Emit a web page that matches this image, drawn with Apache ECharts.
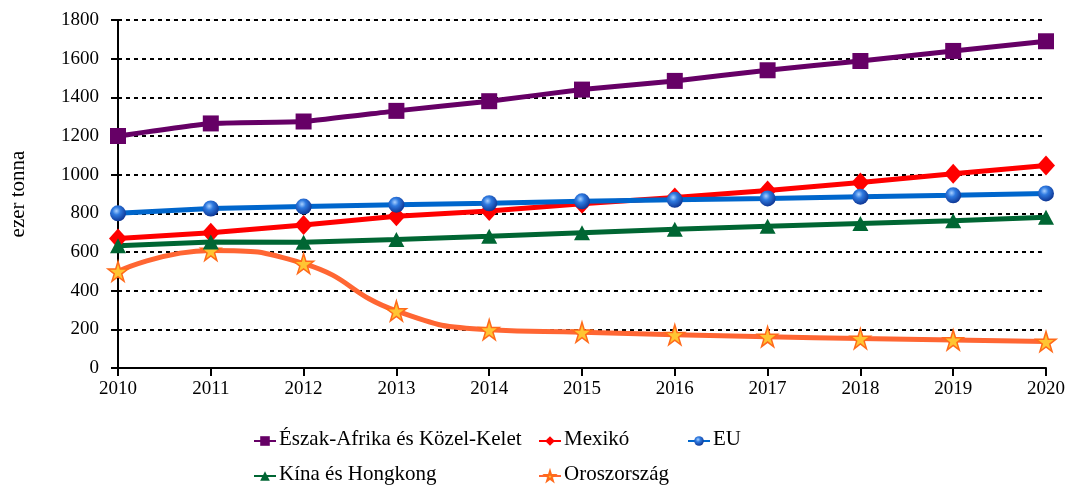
<!DOCTYPE html>
<html>
<head>
<meta charset="utf-8">
<script src="https://cdn.jsdelivr.net/npm/echarts@6/dist/echarts.min.js"></script>
<style>
  html, body { margin: 0; padding: 0; background: #fff; }
  #chart { width: 1072px; height: 490px; }
</style>
</head>
<body>
<div id="chart"></div>
<script>
var years = ["2010", "2011", "2012", "2013", "2014", "2015", "2016", "2017", "2018", "2019", "2020"];
var eszakAfrika = [1200, 1265, 1275, 1330, 1380, 1440, 1485, 1540, 1588, 1640, 1690];
var mexiko = [670, 700, 740, 785, 812, 850, 882, 918, 960, 1005, 1048];
var eu = [800, 825, 835, 845, 852, 862, 870, 877, 886, 893, 903];
var kina = [632, 652, 650, 665, 682, 700, 718, 733, 748, 762, 780];
var orosz = [500, 608, 540, 295, 198, 185, 172, 162, 152, 145, 137];

var seriesNames = ["Észak-Afrika és Közel-Kelet", "Mexikó", "EU", "Kína és Hongkong", "Oroszország"];

var star = "path://M50,0 L61,35 L98,35 L68,57 L79,91 L50,70 L21,91 L32,57 L2,35 L39,35 Z";
var serif = "Liberation Serif";

var chart = echarts.init(document.getElementById("chart"));

// legend cells: icon from the legend, label drawn as serif text next to it
var cells = [[253, 441], [538, 441], [687, 441], [253, 476], [538, 476]];

var legends = [], labels = [];
seriesNames.forEach(function (name, i) {
  legends.push({
    data: [name],
    left: cells[i][0],
    top: cells[i][1] - 6,
    itemWidth: 22,
    itemHeight: 12,
    formatter: function () { return ""; },
    padding: 0
  });
  labels.push({
    type: "text",
    left: cells[i][0] + 26,
    top: cells[i][1] - 12,
    style: { text: name, font: "21px 'Liberation Serif'", fill: "#000" }
  });
});

var option = {
  animation: false,
  backgroundColor: "#fff",
  textStyle: { fontFamily: serif },
  grid: { left: 116, right: 26, top: 20, bottom: 122 },
  legend: legends,
  graphic: labels,
  xAxis: {
    type: "category",
    data: years,
    boundaryGap: false,
    axisLine: { lineStyle: { color: "#000", width: 2 } },
    axisTick: { show: true, length: 8, lineStyle: { color: "#000", width: 2 } },
    axisLabel: { color: "#000", fontFamily: serif, fontSize: 19, margin: 12 }
  },
  yAxis: {
    type: "value",
    min: 0,
    max: 1800,
    interval: 200,
    name: "ezer tonna",
    nameLocation: "middle",
    nameGap: 89,
    nameTextStyle: { color: "#000", fontFamily: serif, fontSize: 21 },
    axisLine: { show: true, lineStyle: { color: "#000", width: 2 } },
    axisTick: { show: true, length: 7, lineStyle: { color: "#000", width: 2 } },
    axisLabel: {
      color: "#000", fontFamily: serif, fontSize: 19, margin: 19,
      formatter: function (v) { return String(v); }
    },
    splitLine: { lineStyle: { color: "#000", width: 2, type: [4, 4] } }
  },
  series: [
    {
      name: seriesNames[0],
      type: "line",
      data: eszakAfrika,
      smooth: 0.15,
      symbol: "rect",
      symbolSize: 16,
      lineStyle: { width: 5, color: "#660066" },
      itemStyle: { color: "#660066" },
      z: 5
    },
    {
      name: seriesNames[1],
      type: "line",
      data: mexiko,
      symbol: "diamond",
      symbolSize: [18, 20],
      lineStyle: { width: 5, color: "#ff0000" },
      itemStyle: { color: "#ff0000" },
      z: 3
    },
    {
      name: seriesNames[2],
      type: "line",
      data: eu,
      symbol: "circle",
      symbolSize: 16,
      lineStyle: { width: 5, color: "#0066cc" },
      itemStyle: {
        color: new echarts.graphic.RadialGradient(0.4, 0.35, 0.7, [
          { offset: 0, color: "#a8d0ff" },
          { offset: 0.35, color: "#2f7ae0" },
          { offset: 1, color: "#0a2f8c" }
        ])
      },
      z: 4
    },
    {
      name: seriesNames[3],
      type: "line",
      data: kina,
      symbol: "triangle",
      symbolSize: [16, 15],
      lineStyle: { width: 5, color: "#006633" },
      itemStyle: { color: "#006633" },
      z: 3
    },
    {
      name: seriesNames[4],
      type: "line",
      data: orosz,
      smooth: 0.5,
      symbol: star,
      symbolSize: 20,
      lineStyle: { width: 5, color: "#ff6633" },
      itemStyle: { color: "#ffc533", borderColor: "#ff6a1a", borderWidth: 1.5 },
      z: 2
    }
  ]
};

chart.setOption(option);
</script>
</body>
</html>
